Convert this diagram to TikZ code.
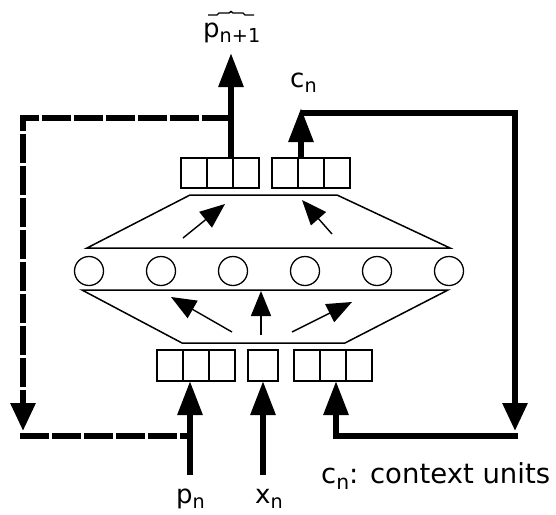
\documentclass[tikz,border=0pt]{standalone}
\usepackage{fontspec}
\setmainfont{DejaVu Sans}
\usetikzlibrary{arrows.meta,calc}
\newcommand\lsub[1]{\raisebox{-0.22em}{\scalebox{0.74}{#1}}}
\begin{document}
\begin{tikzpicture}[x=1pt,y=-1pt,
  cell/.style={draw,line width=1.6pt,minimum width=26pt,minimum height=30pt,inner sep=0pt,outer sep=0pt},
  unit/.style={draw,circle,line width=1.3pt,minimum size=29pt,inner sep=0pt},
  trap/.style={line width=1.5pt,line join=miter},
  thinarrow/.style={line width=1.4pt,-{Triangle[length=25pt,width=20pt]}},
  thickarrow/.style={line width=6pt,-{Triangle[length=34pt,width=24pt]}},
  fb/.style={line width=6pt,line join=miter},
  fbdash/.style={line width=6pt,line join=miter,dash pattern=on 29pt off 3pt},
  lbl/.style={font=\fontsize{26}{30}\selectfont,inner sep=0pt,anchor=base west},
]
\useasboundingbox (0,0) rectangle (556,514);
% output layer cells
\node[cell] (oa) at (194,173) {};
\node[cell] (ob) at (220,173) {};
\node[cell] (oc) at (246,173) {};
\node[cell] (od) at (285,173) {};
\node[cell] (oe) at (311,173) {};
\node[cell] (of) at (337,173) {};
% input layer cells
\node[cell,minimum height=31pt] (ia) at (170,365.5) {};
\node[cell,minimum height=31pt] (ib) at (196,365.5) {};
\node[cell,minimum height=31pt] (ic) at (222,365.5) {};
\node[cell,minimum height=31pt,minimum width=30pt] (im) at (263,365.5) {};
\node[cell,minimum height=31pt] (ra) at (307,365.5) {};
\node[cell,minimum height=31pt] (rb) at (333,365.5) {};
\node[cell,minimum height=31pt] (rc) at (359,365.5) {};
% hidden units
\foreach \i/\x in {1/89,2/161,3/233,4/305,5/377,6/449}
  \node[unit] (h\i) at (\x,271) {};
% trapezoids
\coordinate (ut1) at (190,195); \coordinate (ut2) at (337,195);
\coordinate (ub1) at (87,248);  \coordinate (ub2) at (450,248);
\draw[trap] (ub1) -- (ut1) -- (ut2) -- (ub2) -- cycle;
\coordinate (lt1) at (82,290);  \coordinate (lt2) at (448,290);
\coordinate (lb1) at (182,343); \coordinate (lb2) at (345,343);
\draw[trap] (lt1) -- (lt2) -- (lb2) -- (lb1) -- cycle;
% thin arrows
\coordinate (a1s) at (183,238); \coordinate (a1e) at (225,204);
\coordinate (a2s) at (332,234); \coordinate (a2e) at (302,200);
\coordinate (a3s) at (232,332); \coordinate (a3e) at (171,297);
\coordinate (a4s) at (261,335); \coordinate (a4e) at (261,291);
\coordinate (a5s) at (292,332); \coordinate (a5e) at (352,302);
\draw[thinarrow] (a1s) -- (a1e);
\draw[thinarrow] (a2s) -- (a2e);
\draw[thinarrow] (a3s) -- (a3e);
\draw[thinarrow] (a4s) -- (a4e);
\draw[thinarrow] (a5s) -- (a5e);
% output p_{n+1}
\coordinate (pout) at (231,53);
\draw[thickarrow] ([xshift=-2pt]oc.north west) -- (pout);
% dashed feedback
\coordinate (ctl) at (23,117.5);
\coordinate (ltip) at (23,431);
\coordinate (cbl) at (20,436);
\coordinate (pnb) at (190,475);
\draw[fbdash,-{Triangle[length=28pt,width=24pt]}] (ctl -| pout) -- (ctl) -- (ltip);
\draw[fbdash] (cbl) -- (cbl -| pnb);
% inputs
\coordinate (xnb) at (263,475);
\draw[thickarrow] (pnb) -- (pnb |- ib.south);
\draw[thickarrow] (xnb) -- (im.south);
% context loop
\coordinate (cntip) at (301,108);
\coordinate (ctr) at (515,113);
\coordinate (rtip) at (515,431);
\coordinate (cbr) at (518,436);
\coordinate (cin) at ([xshift=3pt]rb.south);
\draw[thickarrow] ([xshift=3pt]od.north east) -- (cntip);
\draw[fb,-{Triangle[length=28pt,width=24pt]}] (cntip |- ctr) -- (ctr) -- (rtip);
\draw[thickarrow] (cbr) -- (cbr -| cin) -- (cin);
% labels
\node[lbl] (lp1) at (203,37) {p\lsub{n+1}};
\coordinate (hat) at (231,11);
\draw[line width=1.4pt] (hat) ++(-23,4) -- ++(9,0) -- ++(2,-2) -- ++(10,0) -- ++(2,-1.5) -- ++(2,1.5) -- ++(10,0) -- ++(2,2) -- ++(9,0);
\node[lbl] (lcn) at (290,87) {c\lsub{n}};
\node[lbl] (lpn) at (176,503) {p\lsub{n}};
\node[lbl] (lxn) at (255,503) {x\lsub{n}};
\node[lbl,font=\fontsize{27.5}{30}\selectfont] (leg) at (321,483) {c\lsub{n}: context units};
\end{tikzpicture}
\end{document}
